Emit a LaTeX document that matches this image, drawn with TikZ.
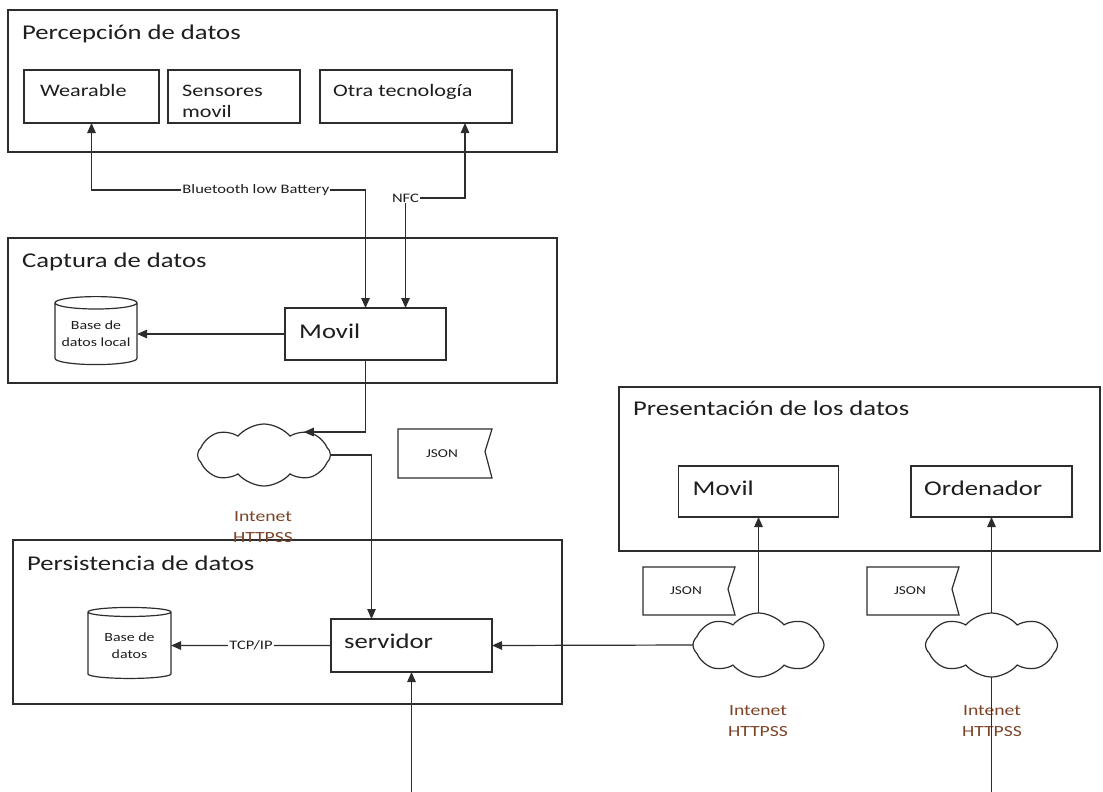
\documentclass[tikz,border=0pt]{standalone}
\usepackage{fontspec}
\setmainfont{Carlito}[FakeStretch=1.27]
\usetikzlibrary{arrows.meta,shapes.geometric,shapes.symbols,calc}
\definecolor{ink}{RGB}{45,45,45}
\definecolor{txt}{RGB}{30,30,30}
\definecolor{net}{RGB}{125,68,40}
\tikzset{
  box/.style={draw=ink, line width=1.2pt, rectangle, inner sep=0pt, outer sep=0pt},
  head/.style={anchor=base west, inner sep=0pt, text=txt, font=\fontsize{21}{25}\selectfont},
  itemtxt/.style={anchor=base west, inner sep=0pt, text=txt, align=left, font=\fontsize{17.5}{21.5}\selectfont},
  bigtxt/.style={anchor=base west, inner sep=0pt, text=txt, font=\fontsize{21}{25}\selectfont},
  db/.style={cylinder, shape border rotate=90, aspect=0.18, draw=ink, line width=1.2pt,
    inner sep=0pt, outer sep=0pt, align=center, text=txt, font=\fontsize{12.5}{17}\selectfont},
  net/.style={cloud, cloud puffs=8, cloud puff arc=100, aspect=2.1, draw=ink, line width=1.2pt,
    inner sep=0pt, outer sep=0pt},
  nettxt/.style={align=center, text=net, inner sep=0pt, font=\fontsize{15.5}{20.5}\selectfont},
  msg/.style={inner sep=0pt, outer sep=0pt, text=txt, font=\fontsize{12}{14}\selectfont},
  lbl/.style={fill=white, inner sep=1pt, text=txt, font=\fontsize{13}{15}\selectfont},
  conn/.style={draw=ink, line width=1.2pt},
  arr/.style={conn, -{Triangle[length=10pt,width=8.5pt]}},
  arrs/.style={conn, {Triangle[length=10pt,width=8.5pt]}-{Triangle[length=10pt,width=8.5pt]}},
}
% message tag: a rectangle whose right side is notched inward
\newcommand\msgtag[1]{%
  \draw[draw=ink, line width=1.2pt]
    (#1.north west) -- (#1.north east) -- ($(#1.east)+(-7,-2)$) --
    (#1.south east) -- (#1.south west) -- cycle;}
\begin{document}
\begin{tikzpicture}[x=1pt, y=-1pt]
\useasboundingbox (0,0) rectangle (1103,792);
\fill[white] (0,0) rectangle (1103,792);

% layer containers
\node[box, minimum width=549pt, minimum height=142pt] (perc) at (282.5,81) {};
\node[box, minimum width=549pt, minimum height=145pt] (capt) at (282.5,310.5) {};
\node[box, minimum width=549pt, minimum height=164pt] (pers) at (287.5,622) {};
\node[box, minimum width=481pt, minimum height=164pt] (pres) at (859.5,469) {};

\node[head] (percT) at ([shift={(14,30)}]perc.north west) {Percepción de datos};
\node[head] (captT) at ([shift={(14,29)}]capt.north west) {Captura de datos};
\node[head] (persT) at ([shift={(14,30)}]pers.north west) {Persistencia de datos};
\node[head] (presT) at ([shift={(14,28)}]pres.north west) {Presentación de los datos};

% data sources
\node[box, minimum width=135pt, minimum height=53pt] (wear) at (91.5,96.5) {};
\node[box, minimum width=132pt, minimum height=53pt] (sens) at (234,96.5) {};
\node[box, minimum width=192pt, minimum height=53pt] (otra) at (416,96.5) {};
\node[itemtxt] (wearT) at ([shift={(16,26)}]wear.north west) {Wearable};
\node[itemtxt] (sensT) at ([shift={(14,47.5)}]sens.north west) {Sensores\\movil};
\node[itemtxt] (otraT) at ([shift={(13,26)}]otra.north west) {Otra tecnología};

% capture
\node[box, minimum width=161pt, minimum height=52pt] (movilc) at (365.5,334) {};
\node[bigtxt] (movilcT) at ([shift={(14,30)}]movilc.north west) {Movil};
\node[db, minimum width=82pt, minimum height=68pt] (bdl) at (96,334) {Base de\\datos local};

% persistence
\node[box, minimum width=161pt, minimum height=53pt] (serv) at (411.5,645.5) {};
\node[bigtxt] (servT) at ([shift={(13,29)}]serv.north west) {servidor};
\node[db, minimum width=83pt, minimum height=71pt] (bd) at (129.5,645.5) {Base de\\datos};

% presentation
\node[box, minimum width=160pt, minimum height=51pt] (movilp) at (758.5,491.5) {};
\node[box, minimum width=161pt, minimum height=51pt] (orden) at (991.5,491.5) {};
\node[bigtxt] (movilpT) at ([shift={(14,29)}]movilp.north west) {Movil};
\node[bigtxt] (ordenT) at ([shift={(13,29)}]orden.north west) {Ordenador};

% networks
\node[net, minimum width=133pt, minimum height=62pt] (cloud1) at (264,455) {};
\node[net, minimum width=131pt, minimum height=64pt] (cloud2) at (758.5,645) {};
\node[net, minimum width=132pt, minimum height=64pt] (cloud3) at (991.5,645) {};
\node[nettxt, anchor=base] (net1) at (263,542) {Intenet\\HTTPSS};
\node[nettxt, anchor=base] (net2) at (758,736) {Intenet\\HTTPSS};
\node[nettxt, anchor=base] (net3) at (992,736) {Intenet\\HTTPSS};

% JSON messages
\node[msg, minimum width=94pt, minimum height=49pt] (json1) at (445,453.5) {};
\node[msg, minimum width=92pt, minimum height=48pt] (json2) at (689,591) {};
\node[msg, minimum width=92pt, minimum height=48pt] (json3) at (913,591) {};
\msgtag{json1}\msgtag{json2}\msgtag{json3}
\node[msg] (json1T) at ([xshift=-3pt]json1.center) {JSON};
\node[msg] (json2T) at ([xshift=-3pt]json2.center) {JSON};
\node[msg] (json3T) at ([xshift=-3pt]json3.center) {JSON};

% open ends at the lower edge
\coordinate (inServ) at (411.5,792);
\coordinate (inOrd) at (991.5,792);

% connectors
\draw[arrs] (wear.south) -- ++(0,67) -| node[lbl, pos=0.3] (bt) {Bluetooth low Battery} (movilc.north);
\draw[arrs] ([xshift=40pt]movilc.north) -- ++(0,-110) node[lbl] (nfc) {NFC} -| ([xshift=49pt]otra.south);
\draw[arr] (movilc.west) -- (bdl.east);
\draw[arr] (movilc.south) |- (cloud1.30);
\draw[arr] (cloud1.east) -| ([xshift=-40pt]serv.north);
\draw[arr] (serv.west) -- node[lbl] (tcp) {TCP/IP} (bd.east);
\draw[arr] (inServ) -- (serv.south);
\draw[arr] (cloud2.west) -- (serv.east);
\draw[arr] (cloud2.north) -- (movilp.south);
\draw[conn] (inOrd) -- (cloud3.south);
\draw[arr] (cloud3.north) -- (orden.south);
\end{tikzpicture}
\end{document}
